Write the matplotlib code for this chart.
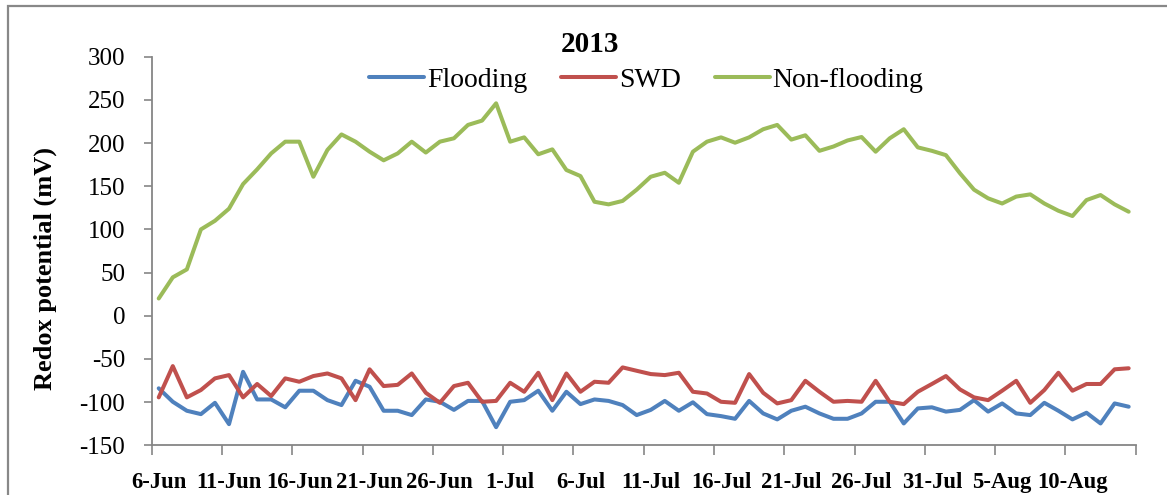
import matplotlib
matplotlib.use("Agg")
import matplotlib.pyplot as plt
from matplotlib.patches import Rectangle
import pandas as pd

plt.rcParams['font.family'] = ['Liberation Serif', 'DejaVu Serif']

# Daily sampling dates, 6 June - 14 August 2013
dates = pd.date_range('2013-06-06', periods=70, freq='D')
date_labels = [f"{d.day}-{d:%b}" for d in dates]

# Redox potential (mV) per treatment
flooding = [-84, -99.6, -110, -113.9, -100.8, -125.5, -64.9, -96.9, -96.9, -106,
            -86.8, -86.8, -97.7, -103.4, -75.3, -82.2, -110, -110,
            -115, -96.9, -99.6, -109, -98.6, -98.6, -129, -99.6, -97.7, -86.8,
            -110, -88, -102.3, -96.9, -98.6, -103.4, -115,
            -109, -98.6, -110, -100.2, -113.9, -116.2, -119.3, -98.6, -113.1,
            -120, -110, -105.3, -113.1, -119.3, -119.3, -113.1, -99.6, -99.6,
            -124.7, -107.3, -106, -111, -109, -97.7, -111, -101.5, -113.1,
            -115, -100.8, -110, -120, -112.3, -124.7, -101.5, -105.3]
swd = [-94.5, -58.3, -94.5, -86, -72.5, -68.7, -94.5, -79, -93, -72.5,
       -76.4, -69.8, -66.8, -72.5, -97.7, -62, -81.4, -80,
       -66.8, -89.2, -100.8, -81.4, -77.6, -99.6, -98.6, -77.6, -88, -66,
       -97.7, -66.8, -88, -76.4, -77.6, -59.8, -63.7,
       -67.5, -68.7, -66, -88, -90, -99.6, -100.8, -67.5, -89.2,
       -101.5, -97.7, -75.3, -88, -99.6, -98.6, -99.6, -75.3, -99.6,
       -102.3, -88, -79, -69.8, -85.3, -94.5, -97.7, -86.8, -75.3,
       -100.8, -86, -66, -86.8, -79, -79, -62, -60.8]
non_flooding = [20, 44.5, 53.7, 100, 110, 124, 152.5, 169.5, 188, 201.6,
                201.6, 161, 192, 210, 201.6, 190, 180, 188,
                201.6, 189, 201.6, 205.5, 221, 226, 246, 201.6, 206.6, 187,
                192.7, 168.8, 161.8, 132, 129, 133, 146,
                161, 165.6, 154, 190, 201.6, 206.6, 200.4, 206.6, 216,
                221, 204, 209, 191, 196, 203, 207, 190, 205.5,
                216, 195, 191, 186, 165, 146, 136, 130, 138,
                140.6, 130, 121.6, 115.5, 134, 139.8, 129, 120.5]

series_names = ['Flooding', 'SWD', 'Non-flooding']
series_colors = ['#4F81BD', '#C0504D', '#9BBB59']
y_ticks = list(range(-150, 301, 50))

fig = plt.figure(figsize=(11.67, 4.95), dpi=100)
fig.patch.set_facecolor('white')

# chart-area frame (open on the right and bottom)
fig.add_artist(Rectangle((8 / 1167, -0.05), 1.2, 1.05 - 6 / 495,
                         transform=fig.transFigure, fill=False,
                         edgecolor='#888888', linewidth=1.6))

ax = fig.add_axes([151.7 / 1167, 1 - 445.3 / 495,
                   (1135.7 - 151.7) / 1167, (445.3 - 56.7) / 495])

x = list(range(len(dates)))
lines = []
for name, vals, col in zip(series_names, [flooding, swd, non_flooding], series_colors):
    ln, = ax.plot(x, vals, color=col, linewidth=2.9, label=name,
                  solid_joinstyle='round', solid_capstyle='round')
    lines.append(ln)

ax.set_xlim(-0.5, len(dates) - 0.5)
ax.set_ylim(-150, 300)
ax.set_yticks(y_ticks)
ax.set_yticklabels([str(v) for v in y_ticks], fontsize=18)

major = list(range(0, len(dates), 5))
ax.set_xticks(major)
ax.set_xticklabels([date_labels[i] for i in major], fontsize=16.3, fontweight='bold')
ax.set_xticks([i - 0.5 for i in range(0, len(dates) + 1, 5)], minor=True)
ax.tick_params(axis='x', which='major', length=0, pad=19)
ax.tick_params(axis='x', which='minor', length=7, width=1.2, color='#868686', direction='out')
ax.tick_params(axis='y', which='major', length=6, width=1.2, color='#868686',
               direction='out', pad=13)

for side in ['top', 'right']:
    ax.spines[side].set_visible(False)
for side in ['left', 'bottom']:
    ax.spines[side].set_color('#868686')
    ax.spines[side].set_linewidth(1.3)

fig.text(590 / 1167, 1 - 45 / 495, '2013', ha='center', va='center',
         fontsize=21, fontweight='bold')
fig.text(45 / 1167, 1 - 269 / 495, 'Redox potential (mV)', rotation=90,
         ha='center', va='center', fontsize=19, fontweight='bold')

fig.legend(handles=lines, labels=series_names, loc='center',
           bbox_to_anchor=(646.5 / 1167, 1 - 80 / 495), ncol=3, frameon=False,
           fontsize=20, handlelength=1.98, handletextpad=0.1,
           columnspacing=1.22, borderpad=0)

fig.savefig('out.png', dpi=100, facecolor='white')
